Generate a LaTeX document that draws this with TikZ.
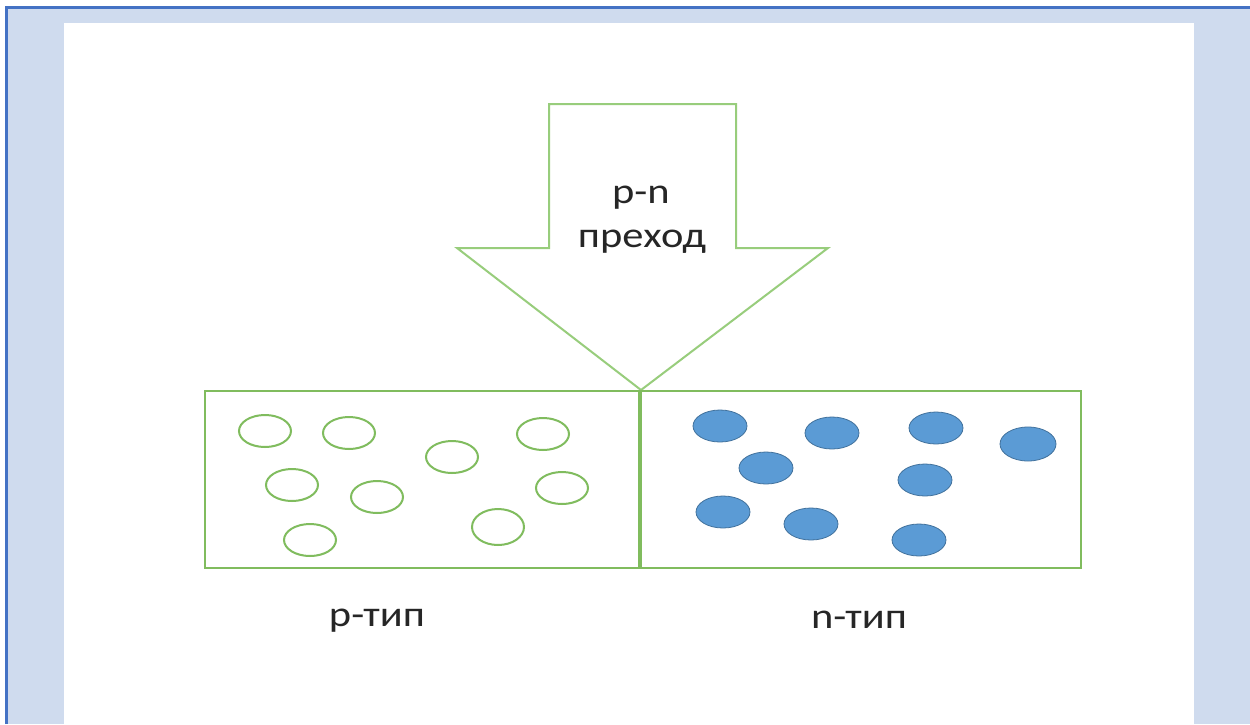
\documentclass[tikz,border=0pt]{standalone}
\usepackage{fontspec}
\setmainfont{Carlito}
\newfontfamily\labelfont[FakeStretch=1.18]{Carlito}
\usetikzlibrary{positioning}
\definecolor{framefill}{HTML}{CFDBEE}
\definecolor{frameline}{HTML}{4472C4}
\definecolor{arrowgreen}{HTML}{98CD7C}
\definecolor{boxgreen}{HTML}{80BC5E}
\definecolor{dotblue}{HTML}{5B9BD5}
\definecolor{dotline}{HTML}{41719C}
\definecolor{labeltext}{HTML}{262626}

\begin{document}
\begin{tikzpicture}[x=1pt,y=-1pt,
  hole/.style={draw=boxgreen,line width=2pt,fill=white},
  electron/.style={draw=dotline,line width=0.8pt,fill=dotblue},
  label/.style={font=\labelfont\fontsize{36}{44}\selectfont,text=labeltext,
    anchor=base,inner sep=0pt}]
% page and frame
\useasboundingbox (0,0) rectangle (1250,724);
\fill[white] (0,0) rectangle (1250,724);
\fill[framefill] (5,6) rectangle (1250,724);
\draw[frameline,line width=3pt] (6.5,724) -- (6.5,7.5) -- (1250,7.5);
\fill[white] (64,23) rectangle (1194,724);
% arrow
\draw[arrowgreen,line width=2pt,line join=miter,fill=white]
  (549,104) -- (736,104) -- (736,248) -- (828,248) -- (641,390)
  -- (457,248) -- (549,248) -- cycle;
\node[label] (pn) at (641,203) {p-n};
\node[label] (junction) at (642,247) {преход};
% p and n regions
\draw[boxgreen,line width=2pt] (205,391) rectangle (640,568);
\draw[boxgreen,line width=2pt] (640,391) rectangle (1081,568);
\draw[boxgreen,line width=3.5pt] (640,391) -- (640,568);
\foreach \x/\y in {265/431,349/433,452/457,543/434,292/485,377/497,562/488,310/540}
  \draw[hole] (\x,\y) ellipse (26 and 16);
\draw[hole] (498,527) ellipse (26 and 18);
\foreach \x/\y in {720/426,832/433,936/428,766/468,925/480,723/512,811/524,919/540}
  \draw[electron] (\x,\y) ellipse (27 and 16);
\draw[electron] (1028,444) ellipse (28 and 17);
\node[label] (ptype) at (377,626) {p-тип};
\node[label] (ntype) at (859,628) {n-тип};
\end{tikzpicture}
\end{document}
